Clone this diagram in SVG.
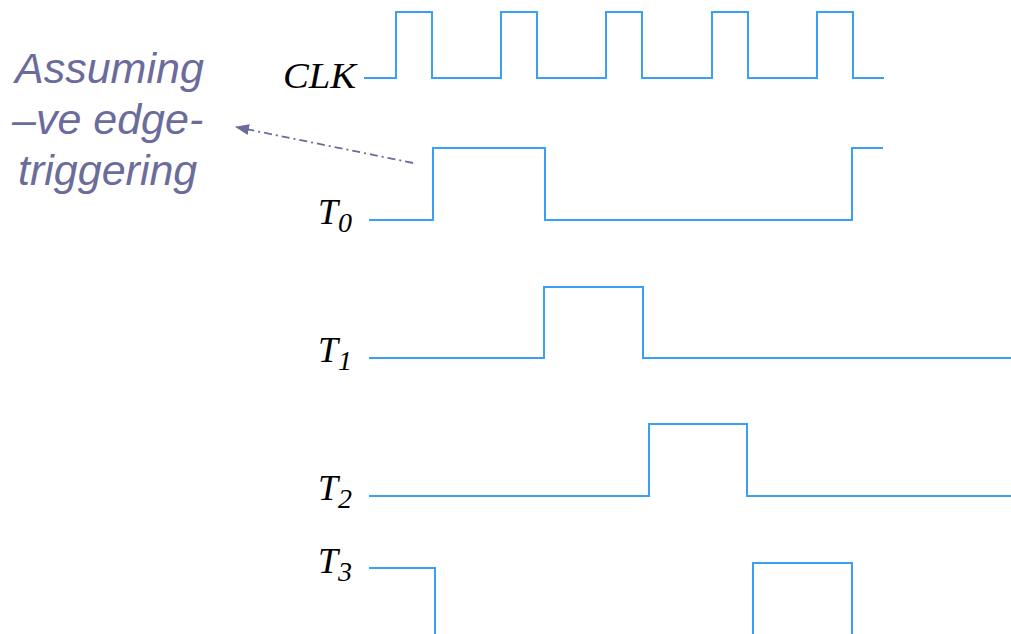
<svg xmlns="http://www.w3.org/2000/svg" width="1011" height="634" viewBox="0 0 1011 634">
<style>
.w{fill:none;stroke:#3AA0F5;stroke-width:2;stroke-linejoin:miter}
.lb{font-family:"Liberation Serif",serif;font-style:italic;font-size:36px;fill:#000}
.sb{font-size:28px}
.note{font-family:"Liberation Sans",Arial,sans-serif;font-style:italic;font-size:43px;fill:#6B6B9C}
</style>
<defs>
<marker id="ah" markerWidth="14" markerHeight="11" refX="13" refY="5.5" orient="auto" markerUnits="userSpaceOnUse" viewBox="0 0 14 11">
<path d="M0,0 L14,5.5 L0,11 Z" fill="#6B6B9C"/>
</marker>
</defs>
<rect width="1011" height="634" fill="#fff"/>
<g id="clk">
<text class="lb" x="356" y="88" text-anchor="end" textLength="73" lengthAdjust="spacingAndGlyphs">CLK</text>
<path class="w" d="M364,78 H396 V12 H432 V78 H501 V12 H537 V78 H606 V12 H642 V78 H712 V12 H748 V78 H817 V12 H853 V78 H884"/>
</g>
<g id="t0">
<text class="lb" x="318" y="224">T<tspan class="sb" dy="8">0</tspan></text>
<path class="w" d="M369,220 H433 V148 H545 V220 H852 V148 H883"/>
</g>
<g id="t1">
<text class="lb" x="318" y="362">T<tspan class="sb" dy="8">1</tspan></text>
<path class="w" d="M369,358 H544 V287 H643 V358 H1011"/>
</g>
<g id="t2">
<text class="lb" x="318" y="500">T<tspan class="sb" dy="8">2</tspan></text>
<path class="w" d="M369,496 H649 V424 H747 V496 H1011"/>
</g>
<g id="t3">
<text class="lb" x="318" y="573">T<tspan class="sb" dy="8">3</tspan></text>
<path class="w" d="M369,568 H435 V634"/>
<path class="w" d="M753,634 V563 H852 V634"/>
</g>
<g id="note">
<text class="note" x="15" y="83">Assuming</text>
<text class="note" x="12" y="134">–ve edge-</text>
<text class="note" x="18" y="185">triggering</text>
</g>
<g id="connectors">
<line x1="413" y1="163" x2="236" y2="127" stroke="#6B6B9C" stroke-width="1.8" stroke-dasharray="8,4,2,4" marker-end="url(#ah)"/>
</g>
</svg>
